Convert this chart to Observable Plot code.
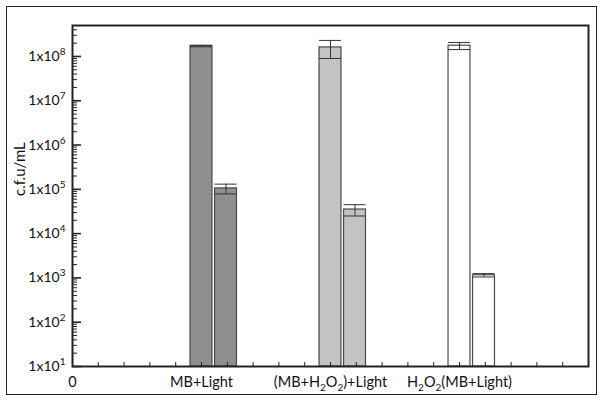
<!DOCTYPE html>
<html>
<head>
<meta charset="utf-8">
<script src="https://cdn.jsdelivr.net/npm/d3@7"></script>
<script src="https://cdn.jsdelivr.net/npm/@observablehq/plot@0.6"></script>
<style>
  html, body { margin: 0; padding: 0; background: #fff; }
  #wrap { position: relative; width: 604px; height: 402px; }
  #outer { position: absolute; left: 6px; top: 6px; width: 589px; height: 387px; border: 1.6px solid #222; pointer-events: none; }
</style>
</head>
<body>
<div id="wrap"><div id="outer"></div></div>
<script>
// ---- data ----
const groups = ["MB+Light", "(MB+H_{2}O_{2})+Light", "H_{2}O_{2}(MB+Light)"];
const xTickLabels = ["0", ...groups];
const beforeMean = [1.72e8, 1.6e8, 1.75e8];
const beforeSD   = [0.07e8, 0.7e8, 0.32e8];
const afterMean  = [1.05e5, 3.5e4, 1.15e3];
const afterSD    = [0.26e5, 1.0e4, 0.1e3];
const groupFill  = ["#8f8f8f", "#c3c3c3", "#ffffff"];
const yLabel = "c.f.u/mL";

// ---- layout/style ----
const W = 604, H = 402;
const mL = 72, mR = 16, mT = 25, mB = 36;
const innerW = W - mL - mR, innerH = H - mT - mB;
const barW = 0.17, pairOffset = 0.19;

const rows = [];
groups.forEach((g, i) => {
  rows.push({group: g, x: i + 1, mean: beforeMean[i], sd: beforeSD[i], fill: groupFill[i]});
  rows.push({group: g, x: i + 1 + pairOffset, mean: afterMean[i], sd: afterSD[i], fill: groupFill[i]});
});

const majors = d3.range(1, 9).map(e => Math.pow(10, e));
const minors = [];
for (let e = 1; e <= 8; e++) for (let k = 2; k <= 9; k++) { const v = k * Math.pow(10, e); if (v <= 5e8) minors.push(v); }
const xMinor = d3.range(1, 20).map(i => i * 0.2);

const chart = Plot.plot({
  width: W, height: H,
  marginLeft: mL, marginRight: mR, marginTop: mT, marginBottom: mB,
  style: {fontFamily: "Lato, 'Open Sans', sans-serif", fontSize: "14px", color: "#111", background: "transparent"},
  x: {type: "linear", domain: [0, 4], axis: null},
  y: {type: "log", domain: [10, 5e8], axis: null},
  color: {type: "identity"},
  marks: [
    Plot.rectY(rows, {x1: d => d.x - barW / 2, x2: d => d.x + barW / 2, y1: 10, y2: "mean", fill: "fill", stroke: "#4a4a4a", strokeWidth: 1.2}),
    Plot.ruleX(rows, {x: "x", y1: d => d.mean - d.sd, y2: d => d.mean + d.sd, stroke: "#333", strokeWidth: 1}),
    Plot.ruleY(rows, {y: d => d.mean + d.sd, x1: d => d.x - barW / 2, x2: d => d.x + barW / 2, stroke: "#333", strokeWidth: 1}),
    Plot.ruleY(rows, {y: d => d.mean - d.sd, x1: d => d.x - barW / 2, x2: d => d.x + barW / 2, stroke: "#333", strokeWidth: 1}),
    Plot.tickY(majors, {y: d => d, insetRight: innerW - 9, stroke: "#222", strokeWidth: 1.6}),
    Plot.tickY(minors, {y: d => d, insetRight: innerW - 5, stroke: "#222", strokeWidth: 1}),
    Plot.tickX(xMinor, {x: d => d, insetTop: innerH - 4, stroke: "#222", strokeWidth: 1}),
    Plot.axisY({ticks: majors, tickSize: 0, tickPadding: 7, fontSize: 14, label: null,
      tickFormat: d => "1x10^{" + Math.round(Math.log10(d)) + "}"}),
    Plot.axisX({ticks: [0, 1, 2, 3], tickSize: 0, tickPadding: 10, fontSize: 14.5, label: null,
      tickFormat: d => xTickLabels[d]}),
    Plot.text([yLabel], {frameAnchor: "left", rotate: -90, dx: -52, fontSize: 15, fill: "#111"}),
    Plot.frame({stroke: "#222", strokeWidth: 2})
  ]
});

// rich text: ^{sup} and _{sub}
d3.select(chart).selectAll("text").each(function () {
  const el = this;
  const s = el.textContent;
  if (!/[\^_]\{/.test(s)) return;
  el.textContent = "";
  const re = /([\^_])\{([^}]*)\}/g;
  let last = 0, shift = 0, m;
  const add = (txt, dy, size) => {
    const t = document.createElementNS("http://www.w3.org/2000/svg", "tspan");
    if (dy) t.setAttribute("dy", dy);
    if (size) t.setAttribute("font-size", size);
    t.textContent = txt;
    el.appendChild(t);
  };
  while ((m = re.exec(s))) {
    if (m.index > last) { add(s.slice(last, m.index), -shift || 0, null); shift = 0; }
    const target = m[1] === "^" ? -6 : 4;
    add(m[2], target - shift, 10);
    shift = target;
    last = re.lastIndex;
  }
  if (last < s.length) { add(s.slice(last), -shift || 0, null); shift = 0; }
});

document.getElementById("wrap").prepend(chart);
</script>
</body>
</html>
